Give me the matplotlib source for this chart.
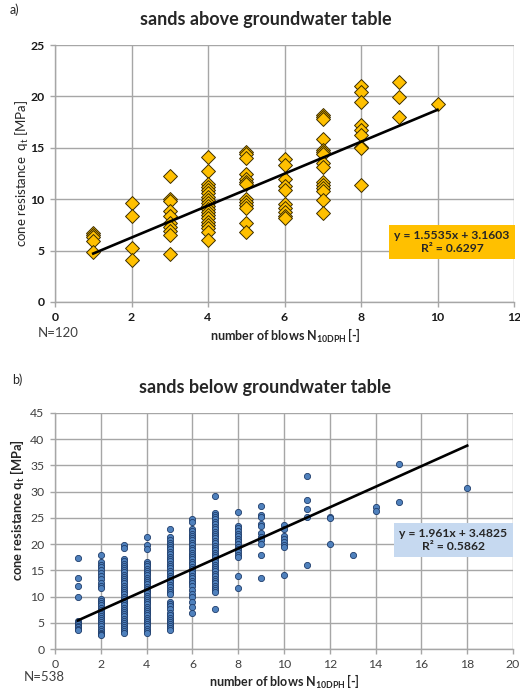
import numpy as np
import matplotlib
matplotlib.use("Agg")
import matplotlib.pyplot as plt

plt.rcParams["font.family"] = ["Lato", "DejaVu Sans"]
plt.rcParams["mathtext.fontset"] = "custom"
plt.rcParams["mathtext.rm"] = "Lato"
plt.rcParams["mathtext.bf"] = "Lato:bold"
plt.rcParams["mathtext.it"] = "Lato:italic"

# -------------------- data --------------------
# a) sands above groundwater table: blows -> cone resistance values
above = {
    1: [6.7, 6.5, 6.3, 5.9, 4.9],
    2: [9.6, 8.4, 5.3, 4.1],
    3: [12.3, 10.0, 9.8, 8.9, 8.4, 7.7, 7.3, 6.9, 6.5, 4.7],
    4: [14.1, 12.7, 11.5, 11.2, 10.9, 10.6, 10.2, 9.9, 9.6, 9.3, 9.0, 8.8,
        8.5, 8.2, 7.8, 7.5, 7.2, 6.8, 6.0],
    5: [14.6, 14.4, 14.0, 12.5, 12.0, 11.7, 11.5, 10.0, 9.7, 9.4, 9.1, 7.7, 6.8],
    6: [13.9, 13.3, 12.0, 11.3, 10.9, 9.5, 9.1, 8.8, 8.4, 8.2],
    7: [18.2, 18.0, 17.8, 15.9, 14.8, 14.6, 14.4, 13.5, 13.1, 11.7, 11.4,
        11.1, 10.8, 9.9, 8.7],
    8: [21.0, 20.4, 19.5, 17.2, 16.7, 16.2, 15.1, 14.95, 11.4],
    9: [21.4, 19.9, 18.0],
    10: [19.3],
}
fit_a = (1.5535, 3.1603)
r2_a = 0.6297
xfit_a = [1, 10]

# b) sands below groundwater table
below = {
    1: [17.4, 13.6, 12.0, 9.9, 5.3, 5.0, 4.7, 4.4, 4.1, 3.8, 3.6],
    2: [18.0, 16.6, 16.1, 15.6, 15.0, 14.5, 13.9, 13.3, 12.6, 12.1, 11.7,
        9.6, 9.2, 8.7, 8.3, 7.9, 7.5, 7.1, 6.7, 6.3, 5.9, 5.5, 5.1, 4.7,
        4.3, 3.9, 3.5, 3.1, 2.8, 2.6],
    3: [19.8, 19.2, 17.2, 16.8, 16.3, 15.9, 15.5, 15.0, 14.6, 14.2, 13.8,
        13.3, 12.9, 12.5, 12.1, 11.7, 11.2, 10.8, 10.4, 10.0, 9.6, 9.2,
        8.7, 8.3, 7.9, 7.5, 7.1, 6.6, 6.2, 5.8, 5.4, 5.0, 4.6, 4.2, 3.8,
        3.4, 3.0],
    4: [21.3, 19.9, 19.0, 16.6, 16.2, 15.8, 15.3, 14.9, 14.5, 14.1, 13.6,
        13.2, 12.8, 12.4, 11.9, 11.5, 11.1, 10.7, 10.2, 9.8, 9.4, 9.0,
        8.5, 8.1, 7.7, 7.3, 6.8, 6.4, 6.0, 5.6, 5.1, 4.7, 4.3, 3.9, 3.4,
        3.0],
    5: [22.8, 21.3, 20.8, 20.3, 19.9, 19.4, 19.0, 18.5, 18.1, 17.6, 17.2,
        16.7, 16.3, 15.8, 15.4, 14.9, 14.5, 14.0, 13.6, 13.1, 12.7, 12.2,
        11.8, 11.3, 10.9, 10.4, 9.0, 8.6, 8.2, 7.7, 6.8, 6.4, 6.0, 5.6,
        5.2, 4.8, 4.4, 4.0, 3.7],
    6: [24.7, 24.3, 22.9, 22.5, 22.0, 21.6, 21.1, 20.7, 20.2, 19.8, 19.3,
        18.9, 18.4, 18.0, 17.5, 17.1, 16.6, 16.2, 15.7, 15.3, 14.8, 14.4,
        13.9, 13.5, 13.0, 12.6, 12.1, 11.2, 10.5, 9.9, 9.0, 8.0, 6.9],
    7: [29.1, 26.0, 25.6, 25.1, 24.7, 24.2, 23.8, 23.3, 22.9, 22.4, 22.0,
        21.5, 21.1, 20.6, 20.2, 19.7, 19.3, 18.8, 18.4, 17.9, 17.5, 17.0,
        16.6, 16.1, 15.7, 15.2, 14.8, 14.3, 13.9, 13.4, 13.0, 12.5, 12.1,
        11.6, 11.2, 10.9, 7.7],
    8: [26.1, 23.5, 23.0, 22.5, 22.0, 21.5, 21.0, 20.5, 20.0, 19.5, 19.0,
        18.5, 18.0, 17.6, 13.9, 11.7],
    9: [27.2, 25.6, 25.2, 23.8, 23.4, 22.1, 21.4, 21.0, 20.7, 20.1, 17.9, 13.5],
    10: [23.6, 22.9, 21.5, 21.0, 20.4, 19.8, 19.4, 14.1],
    11: [32.9, 28.4, 26.7, 25.1, 16.0],
    12: [25.2, 24.9, 20.1],
    13: [18.0],
    14: [27.0, 26.4],
    15: [35.3, 28.0],
    18: [30.7],
}
fit_b = (1.961, 3.4825)
r2_b = 0.5862
xfit_b = [1, 18]

W, H = 520, 695
fig = plt.figure(figsize=(W / 100, H / 100), dpi=100)

GRID = "#a6a6a6"
TXT = "#262626"


def frac(x0, y0, x1, y1):
    # pixel box (top-left origin) -> figure fraction rect
    return [x0 / W, 1 - y1 / H, (x1 - x0) / W, (y1 - y0) / H]


def style_axes(ax, xmax, ymax, xstep, ystep, bold):
    ax.set_xlim(0, xmax)
    ax.set_ylim(0, ymax)
    ax.set_xticks(np.arange(0, xmax + 0.1, xstep))
    ax.set_yticks(np.arange(0, ymax + 0.1, ystep))
    ax.grid(True, color=GRID, lw=1.0, zorder=0)
    ax.set_axisbelow(True)
    for s in ("top", "right"):
        ax.spines[s].set_visible(False)
    for s in ("left", "bottom"):
        ax.spines[s].set_color(GRID)
        ax.spines[s].set_linewidth(1.0)
    ax.tick_params(direction="out", length=3.5, width=1.0, color=GRID,
                   labelsize=8.8, labelcolor="#1a1a1a" if bold else "#404040",
                   pad=4)
    if bold:
        for lab in ax.get_xticklabels() + ax.get_yticklabels():
            lab.set_fontweight("bold")


# -------------------- a) above --------------------
ax1 = fig.add_axes(frac(55, 45, 514, 302))
style_axes(ax1, 12, 25, 2, 5, True)
xa = [k for k, v in above.items() for _ in v]
ya = [q for v in above.values() for q in v]
ax1.scatter(xa, ya, marker="D", s=50, c="#ffc000", edgecolors="#3d2e00",
            linewidths=0.7, zorder=3)
xf = np.array(xfit_a, dtype=float)
ax1.plot(xf, fit_a[0] * xf + fit_a[1], color="black", lw=1.9, zorder=4)
ax1.text(0.865, 0.233, f"y = {fit_a[0]}x + {fit_a[1]}\nR² = {r2_a}",
         transform=ax1.transAxes, ha="center", va="center", fontsize=8.7,
         fontweight="bold", color=TXT, linespacing=1.25, zorder=5,
         bbox=dict(boxstyle="square,pad=0.42", fc="#ffc000", ec="none"))

# -------------------- b) below --------------------
ax2 = fig.add_axes(frac(55, 413, 513, 649))
style_axes(ax2, 20, 45, 2, 5, False)
xb = [k for k, v in below.items() for _ in v]
yb = [q for v in below.values() for q in v]
ax2.scatter(xb, yb, marker="o", s=20, c="#4f81bd", edgecolors="#1f3d6b",
            linewidths=0.6, zorder=3)
xf = np.array(xfit_b, dtype=float)
ax2.plot(xf, fit_b[0] * xf + fit_b[1], color="black", lw=1.9, zorder=4)
ax2.text(0.870, 0.462, f"y = {fit_b[0]}x + {fit_b[1]}\nR² = {r2_b}",
         transform=ax2.transAxes, ha="center", va="center", fontsize=8.7,
         fontweight="bold", color=TXT, linespacing=1.25, zorder=5,
         bbox=dict(boxstyle="square,pad=0.42", fc="#c6d9f0", ec="none"))

# -------------------- texts --------------------
def ft(x, y, s, **kw):
    fig.text(x / W, 1 - y / H, s, **kw)


ft(10, 10, "a)", fontsize=9, color=TXT, va="center")
ft(12, 380, "b)", fontsize=9, color=TXT, va="center")
ft(266, 19, "sands above groundwater table", fontsize=13, fontweight="bold",
   color=TXT, ha="center", va="center")
ft(265, 387, "sands below groundwater table", fontsize=13, fontweight="bold",
   color=TXT, ha="center", va="center")
ft(22, 173, r"cone resistance  q$_\mathrm{t}$ [MPa]", fontsize=9.5,
   color=TXT, rotation=90, ha="center", va="center")
ft(18, 510, r"cone resistance q$_\mathbf{t}$ [MPa]", fontsize=9.3,
   fontweight="bold", color=TXT, rotation=90, ha="center", va="center")
ft(285, 336, r"number of blows N$_\mathbf{10DPH}\,$[-]", fontsize=9,
   fontweight="bold", color=TXT, ha="center", va="center")
ft(284, 682, r"number of blows N$_\mathbf{10DPH}\,$[-]", fontsize=9,
   fontweight="bold", color=TXT, ha="center", va="center")
ft(38, 333, "N=120", fontsize=9.5, color="#404040", va="center")
ft(24, 677, "N=538", fontsize=9.5, color="#404040", va="center")

fig.savefig("out.png", dpi=100)
